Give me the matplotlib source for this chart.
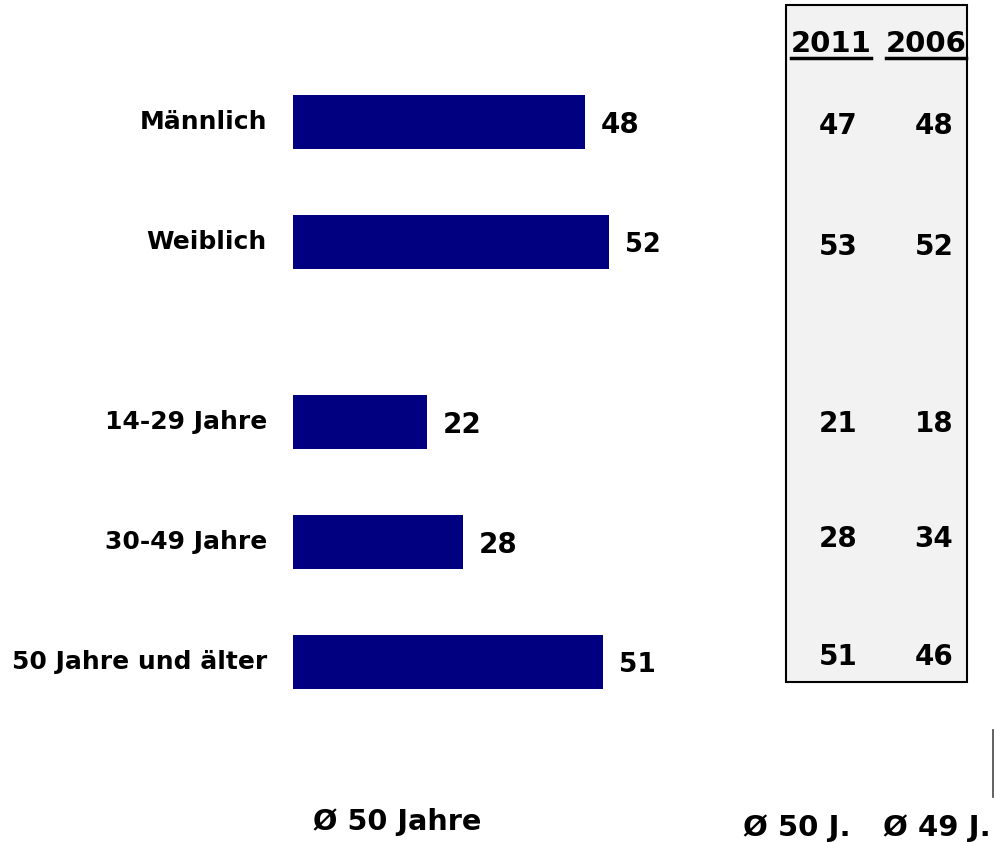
import matplotlib.pyplot as plt
import matplotlib.transforms as mtransforms
from matplotlib.patches import Rectangle
from matplotlib.lines import Line2D

plt.rcParams["font.family"] = ["DejaVu Sans"]
plt.rcParams["font.weight"] = "bold"

# Data
categories = ["Männlich", "Weiblich", "14-29 Jahre", "30-49 Jahre", "50 Jahre und älter"]
positions = [0, 1, 2.5, 3.5, 4.5]
values = [48, 52, 22, 28, 51]
years = ["2011", "2006"]
values_2011 = [47, 53, 21, 28, 51]
values_2006 = [48, 52, 18, 34, 46]
avg_total = "Ø 50 Jahre"
avg_years = ["Ø 50 J.", "Ø 49 J."]

# styling per row
label_sizes = [20, 18.5, 20, 20, 19]
table_shift = [0.03, 0.04, 0.015, -0.025, -0.04]

fig = plt.figure(figsize=(9.94, 8.42), dpi=100)
W, H = 994, 842

# comparison box in the background
fig.patches.append(Rectangle((786 / W, 1 - 682 / H), (967 - 786) / W, (682 - 5) / H,
                             transform=fig.transFigure, facecolor="#f2f2f2",
                             edgecolor="black", linewidth=1.5, zorder=-1))

ax = fig.add_axes([293 / W, 0, 1 - 293 / W, 1])
ax.patch.set_alpha(0)
ax.barh(positions, values, height=0.45, color="#000080")
ax.set_xlim(0, 701 / 6.083)
ax.set_ylim(6.0, -122 / 120)
ax.axis("off")

for p, v, c, s in zip(positions, values, categories, label_sizes):
    ax.text(v + 2.6, p + 0.025, str(v), va="center", ha="left", fontsize=s, fontweight="bold")
    ax.text(-4.3, p, c, va="center", ha="right", fontsize=18, fontweight="bold")

# table values to the right
trans = mtransforms.blended_transform_factory(fig.transFigure, ax.transData)
for p, d, a, b in zip(positions, table_shift, values_2011, values_2006):
    ax.text(838 / W, p + d, str(a), transform=trans, ha="center", va="center",
            fontsize=20, fontweight="bold")
    ax.text(934 / W, p + d, str(b), transform=trans, ha="center", va="center",
            fontsize=20, fontweight="bold")

header_x = [831 / W, 926 / W]
headers = []
for x, y in zip(header_x, years):
    headers.append(fig.text(x, 1 - 44 / H, y, ha="center", va="center",
                            fontsize=21, fontweight="bold"))

fig.canvas.draw()
renderer = fig.canvas.get_renderer()
for t in headers:
    bb = t.get_window_extent(renderer)
    x0, x1 = bb.x0 / W, bb.x1 / W
    yl = 1 - 58 / H
    fig.lines.append(Line2D([x0, x1], [yl, yl], transform=fig.transFigure,
                            color="black", linewidth=2.5))

# averages
fig.text(397 / W, 1 - 822 / H, avg_total, ha="center", va="center", fontsize=20.7, fontweight="bold")
for x, t in zip([797 / W, 937 / W], avg_years):
    fig.text(x, 1 - 828 / H, t, ha="center", va="center", fontsize=21, fontweight="bold")

# small stray line at right edge
fig.lines.append(Line2D([992.5 / W, 992.5 / W], [1 - 730 / H, 1 - 797 / H],
                        transform=fig.transFigure, color="#555555", linewidth=1.3))

fig.savefig("out.png", dpi=100)
